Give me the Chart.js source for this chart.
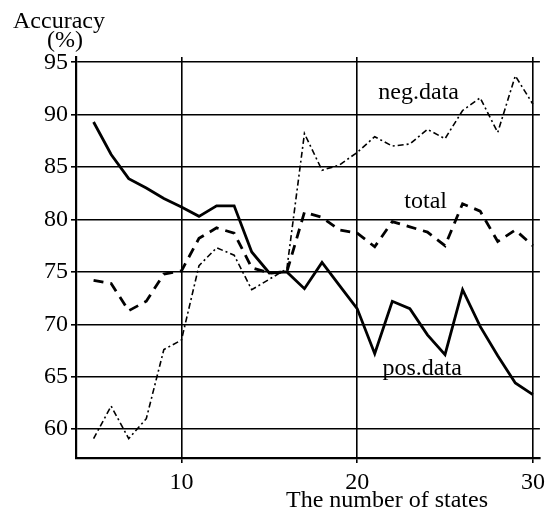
<!DOCTYPE html>
<html>
<head>
<meta charset="utf-8">
<script src="https://cdn.jsdelivr.net/npm/chart.js@4/dist/chart.umd.min.js"></script>
<style>
  html, body { margin: 0; padding: 0; background: #fff; }
  #wrap { width: 550px; height: 521px; }
</style>
</head>
<body>
<div id="wrap"><canvas id="chart"></canvas></div>
<script>
const states = [5, 6, 7, 8, 9, 10, 11, 12, 13, 14, 15, 16, 17, 18, 19, 20, 21, 22, 23, 24, 25, 26, 27, 28, 29, 30];
const posData = [89.3, 86.2, 83.9, 83.0, 82.0, 81.2, 80.3, 81.3, 81.3, 76.9, 74.9, 75.0, 73.4, 75.9, 73.7, 71.5, 67.2, 72.2, 71.5, 69.0, 67.1, 73.3, 69.8, 67.0, 64.4, 63.3];
const totalData = [74.2, 73.9, 71.3, 72.2, 74.8, 75.1, 78.2, 79.2, 78.7, 75.4, 74.9, 75.0, 80.7, 80.2, 79.0, 78.7, 77.4, 79.8, 79.3, 78.8, 77.5, 81.5, 80.8, 77.9, 79.0, 77.5];
const negData = [59.1, 62.2, 59.1, 61.0, 67.6, 68.5, 75.6, 77.3, 76.6, 73.3, 74.3, 75.3, 88.2, 84.7, 85.2, 86.4, 87.9, 87.0, 87.2, 88.6, 87.7, 90.4, 91.6, 88.3, 93.7, 91.0];
const xTicks = [10, 20, 30];
const yTicks = [60, 65, 70, 75, 80, 85, 90, 95];

const serif = '"Liberation Serif", "DejaVu Serif", serif';

function points(values) {
    return states.map((s, i) => ({ x: s, y: values[i] }));
}

// series names written next to the curves, plus the axis captions
const textPlugin = {
    id: 'texts',
    afterDraw(chart) {
        const ctx = chart.ctx;
        const xs = chart.scales.x, ys = chart.scales.y;
        ctx.save();
        ctx.fillStyle = '#000';
        ctx.font = '24px ' + serif;
        ctx.textAlign = 'center';
        ctx.textBaseline = 'middle';
        ctx.fillText('neg.data', xs.getPixelForValue(23.5), ys.getPixelForValue(92.1));
        ctx.fillText('total', xs.getPixelForValue(23.9), ys.getPixelForValue(81.7));
        ctx.fillText('pos.data', xs.getPixelForValue(23.7), ys.getPixelForValue(65.8));
        ctx.fillText('The number of states', 387, 501);
        ctx.fillText('Accuracy', 59, 22);
        ctx.fillText('(%)', 65, 41);
        ctx.restore();
    }
};

new Chart(document.getElementById('chart'), {
    type: 'line',
    data: {
        datasets: [
            {
                label: 'pos.data',
                data: points(posData),
                borderColor: '#000',
                borderWidth: 2.8,
                pointRadius: 0
            },
            {
                label: 'total',
                data: points(totalData),
                borderColor: '#000',
                borderWidth: 2.8,
                borderDash: [10, 7],
                pointRadius: 0
            },
            {
                label: 'neg.data',
                data: points(negData),
                borderColor: '#000',
                borderWidth: 1.6,
                borderDash: [6, 3, 2, 3],
                pointRadius: 0
            }
        ]
    },
    plugins: [textPlugin],
    options: {
        responsive: true,
        maintainAspectRatio: false,
        animation: false,
        layout: { padding: { top: 57, right: 8, left: 0, bottom: 0 } },
        plugins: { legend: { display: false }, tooltip: { enabled: false } },
        scales: {
            x: {
                type: 'linear',
                min: 4,
                max: 30.4,
                afterBuildTicks: (scale) => { scale.ticks = xTicks.map(v => ({ value: v })); },
                afterFit: (scale) => { scale.height = 63; },
                grid: { color: '#000', lineWidth: 1.6, tickLength: 5 },
                border: { color: '#000', width: 2.2 },
                ticks: { color: '#000', font: { family: serif, size: 24 }, padding: 5, maxRotation: 0 }
            },
            y: {
                min: 57.25,
                max: 95.5,
                afterBuildTicks: (scale) => { scale.ticks = yTicks.map(v => ({ value: v })); },
                afterFit: (scale) => { scale.width = 76; },
                grid: { color: '#000', lineWidth: 1.6, tickLength: 5 },
                border: { color: '#000', width: 2.2 },
                ticks: { color: '#000', font: { family: serif, size: 24 }, padding: 3 }
            }
        }
    }
});
</script>
</body>
</html>
